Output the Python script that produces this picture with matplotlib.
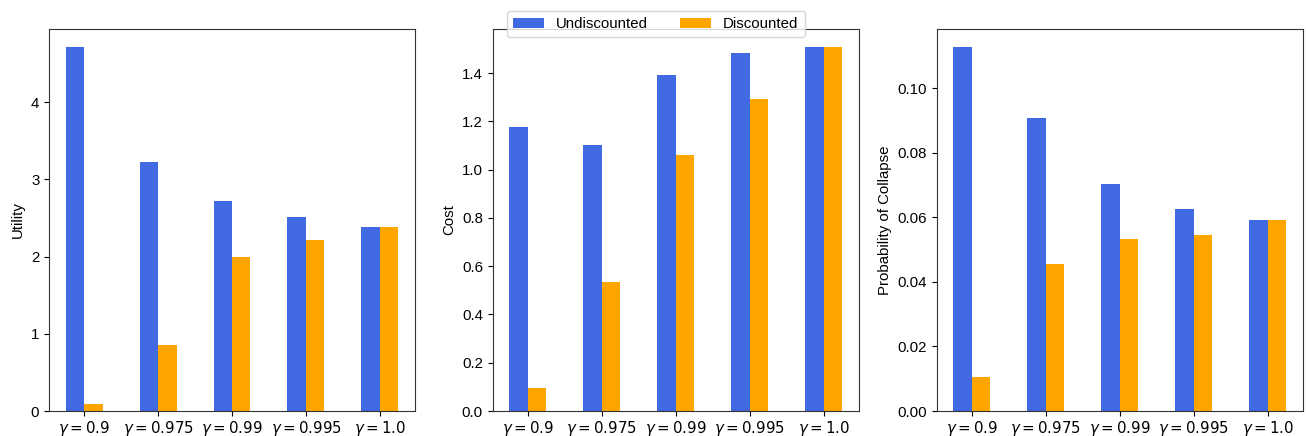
import numpy as np
import matplotlib
matplotlib.use("Agg")
from matplotlib import pyplot as plt

plt.rcParams['font.family'] = ['Liberation Sans', 'DejaVu Sans']
plt.rcParams['font.size'] = 10.8

gammas = ["0.9", "0.975", "0.99", "0.995", "1.0"]
tick_labels = [r"$\gamma = " + g + "$" for g in gammas]

utility_undisc = [4.71, 3.23, 2.72, 2.51, 2.38]
utility_disc = [0.09, 0.86, 1.99, 2.21, 2.38]
cost_undisc = [1.177, 1.103, 1.392, 1.483, 1.508]
cost_disc = [0.094, 0.535, 1.061, 1.293, 1.508]
collapse_undisc = [0.1127, 0.0908, 0.0702, 0.0625, 0.0593]
collapse_disc = [0.0105, 0.0456, 0.0532, 0.0546, 0.0593]

panels = [
    ("Utility", utility_undisc, utility_disc),
    ("Cost", cost_undisc, cost_disc),
    ("Probability of Collapse", collapse_undisc, collapse_disc),
]

fig = plt.figure(figsize=(13.06, 4.36), dpi=100)
lefts = [49 / 1306, 492.7 / 1306, 936.7 / 1306]
w = 366 / 1306
b = 1 - 411 / 436
h = 382 / 436

x = np.arange(len(gammas))
width = 0.25
for i, (ylabel, undisc, disc) in enumerate(panels):
    ax = fig.add_axes([lefts[i], b, w, h])
    ax.bar(x - width / 2, undisc, width, color='royalblue', label='Undiscounted')
    ax.bar(x + width / 2, disc, width, color='orange', label='Discounted')
    ax.set_xticks(x)
    ax.set_xticklabels(tick_labels)
    ax.tick_params(axis='x', pad=2)
    ax.set_ylabel(ylabel)
    for s in ax.spines.values():
        s.set_color('#333333')
    if i == 0:
        handles, labels = ax.get_legend_handles_labels()

fig.legend(handles, labels, loc='center', bbox_to_anchor=(0.502, 0.944), ncol=2,
           handlelength=2.1, columnspacing=2.1)
fig.savefig("out.png", dpi=100)
